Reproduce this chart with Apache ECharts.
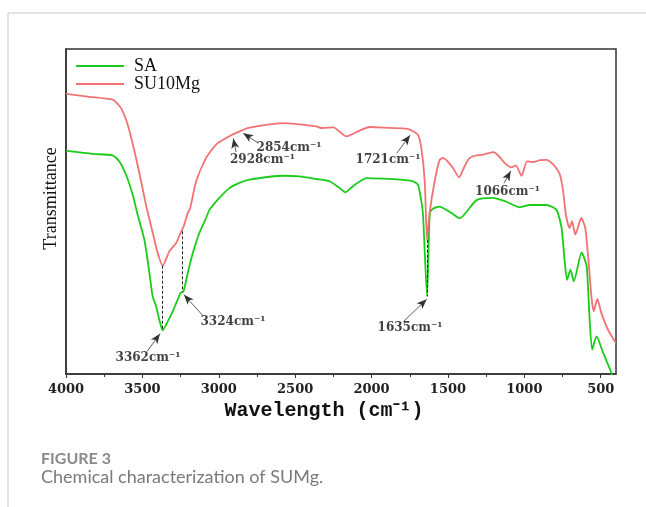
<!DOCTYPE html>
<html>
<head>
<meta charset="utf-8">
<script src="https://cdn.jsdelivr.net/npm/echarts@6/dist/echarts.min.js"></script>
<style>
  * { margin: 0; padding: 0; }
  html, body { background: #fff; }
  #chart { width: 646px; height: 507px; }
</style>
</head>
<body>
<div id="chart"></div>
<script>
  // wavenumbers (cm-1) and transmittance (a.u., 0-100 = plot height)
  var waveSA = [4000,3826,3695,3651,3607,3564,3531,3487,3454,3433,3410,3389,3367,3334,3301,3269,3251,3231,3203,3170,
    3127,3083,3061,2996,2930,2865,2799,2581,2472,2362,2275,2209,2170,2122,2034,1925,1816,1729,1696,1674,
    1663,1637,1619,1600,1554,1510,1467,1423,1313,1204,1117,1030,964,855,790,757,735,720,698,676,
    625,592,575,556,527,484,438,400];
  var valSA = [68.7,67.7,67.3,65.4,61.3,55.2,49.0,41.3,31.1,23.9,20.8,16.7,13.4,16.2,19.3,22.9,24.9,25.4,31.1,37.2,
    43.4,48.0,50.5,54.2,57.2,58.8,59.8,61.0,60.8,60.0,59.3,57.2,55.9,57.8,60.3,60.1,59.8,59.3,58.2,53.1,
    49.0,23.9,49.5,50.8,51.5,50.5,49.2,47.9,53.5,54.2,53.0,51.3,52.0,52.0,50.5,45.2,34.2,29.0,32.1,28.5,
    37.4,33.1,18.8,7.5,11.6,6.5,1.3,-4];

  var waveSU = [4000,3847,3695,3640,3596,3552,3509,3472,3432,3400,3367,3323,3279,3246,3230,3203,3187,3148,3083,3017,
    2952,2886,2799,2581,2362,2330,2250,2165,2078,2012,1881,1772,1729,1696,1674,1652,1637,1622,1587,1554,
    1532,1510,1467,1427,1401,1368,1336,1270,1204,1172,1128,1084,1056,1018,982,942,898,855,833,800,
    767,746,728,704,688,666,627,601,579,561,546,522,496,452,400];
  var valSU = [86.2,85.3,84.4,81.8,76.7,68.6,59.4,51.1,43.4,37.2,33.3,37.8,40.3,43.9,45.4,49.5,51.1,59.3,66.5,70.6,
    72.6,74.2,75.8,77.2,76.2,75.7,75.9,73.1,74.9,76.0,75.7,75.5,74.7,73.6,69.5,59.4,41.3,48.9,59.3,65.9,
    66.5,65.8,63.4,60.5,62.9,65.9,67.0,67.5,68.3,67.3,64.9,63.6,64.2,61.0,65.4,65.2,65.8,65.9,65.4,63.9,
    61.3,56.2,49.0,44.9,47.0,42.9,48.0,44.9,34.2,23.9,19.3,23.1,18.8,13.6,9.5];

  var majorTicks = [4000,3500,3000,2500,2000,1500,1000,500];
  var minorTicks = [3750,3250,2750,2250,1750,1250,750];

  // peak annotations: text, label centre, arrow tail, arrow head
  var annoText = ['3362cm⁻¹','3324cm⁻¹','2928cm⁻¹','2854cm⁻¹','1721cm⁻¹','1635cm⁻¹','1066cm⁻¹'];
  var annoLabelAt = [[3463,4.9],[2907,16.0],[2714,65.8],[2540,69.5],[1892,65.8],[1748,14.2],[1110,56.1]];
  var annoFrom = [[3468,7.0],[3101,17.8],[2887,68.3],[2743,71.1],[1835,67.9],[1792,16.1],[1133,58.7]];
  var annoTo = [[3385,12.4],[3228,24.4],[2905,72.5],[2840,74.1],[1748,73.5],[1639,23.0],[1089,62.5]];
  // dashed guides between the two spectra
  var guideTop = [[3367,33.3],[3238,43.9],[1637,41.3]];
  var guideBottom = [[3367,13.4],[3238,25.2],[1637,23.9]];

  function zip(xs, ys) {
    return xs.map(function (x, i) { return [x, ys[i]]; });
  }

  var chart = echarts.init(document.getElementById('chart'));
  chart.setOption({
    animation: false,
    backgroundColor: '#fff',
    legend: {
      data: ['SA', 'SU10Mg'],
      orient: 'vertical',
      left: 71,
      top: 52,
      icon: 'rect',
      itemWidth: 48,
      itemHeight: 2,
      itemGap: 0,
      textStyle: { fontFamily: 'Liberation Serif', fontSize: 18, color: '#111', lineHeight: 18, padding: [0, 0, 0, 5] }
    },
    grid: { left: 66, right: 30, top: 49, bottom: 133, show: true, borderColor: '#333', borderWidth: 1.5 },
    xAxis: [{
      type: 'value',
      inverse: true,
      min: 400,
      max: 4000,
      name: 'Wavelength (cm⁻¹)',
      nameLocation: 'middle',
      nameGap: 26,
      nameTextStyle: { fontFamily: 'Liberation Mono', fontWeight: 'bold', fontSize: 20, color: '#111', padding: [0, 34, 0, 0] },
      axisLine: { lineStyle: { color: '#333', width: 1.5 } },
      axisTick: { customValues: majorTicks, length: 4, lineStyle: { color: '#333' } },
      axisLabel: {
        customValues: majorTicks,
        margin: 9,
        formatter: function (v) { return String(v); },
        fontFamily: 'DejaVu Serif',
        fontWeight: 'bold',
        fontSize: 13,
        color: '#222'
      },
      splitLine: { show: false }
    }, {
      type: 'value',
      inverse: true,
      min: 400,
      max: 4000,
      position: 'bottom',
      axisLine: { show: false },
      axisTick: { customValues: minorTicks, length: 3, lineStyle: { color: '#333' } },
      axisLabel: { show: false },
      splitLine: { show: false }
    }],
    yAxis: {
      type: 'value',
      min: 0,
      max: 100,
      name: 'Transmittance',
      nameLocation: 'middle',
      nameGap: 6,
      nameTextStyle: { fontFamily: 'Liberation Serif', fontSize: 18, color: '#111', padding: [0, 0, 0, 26] },
      axisLine: { show: true, lineStyle: { color: '#333', width: 1.5 } },
      axisTick: { show: false },
      axisLabel: { show: false },
      splitLine: { show: false }
    },
    series: [{
      name: 'SA',
      type: 'line',
      data: zip(waveSA, valSA),
      symbol: 'none',
      smooth: 0.2,
      clip: true,
      lineStyle: { color: '#19cc19', width: 1.8 },
      itemStyle: { color: '#19cc19' }
    }, {
      name: 'SU10Mg',
      type: 'line',
      data: zip(waveSU, valSU),
      symbol: 'none',
      smooth: 0.2,
      clip: true,
      lineStyle: { color: '#f07272', width: 1.8 },
      itemStyle: { color: '#f07272' },
      markLine: {
        silent: true,
        symbol: ['none', 'none'],
        label: { show: false },
        lineStyle: { color: '#222', type: [3, 2], width: 1 },
        data: guideTop.map(function (p, i) { return [{ coord: p }, { coord: guideBottom[i] }]; })
      }
    }, {
      name: 'notes',
      type: 'scatter',
      silent: true,
      symbolSize: 0,
      itemStyle: { color: 'rgba(0,0,0,0)' },
      data: annoLabelAt.map(function (p, i) { return { value: p, name: annoText[i] }; }),
      label: {
        show: true,
        position: 'inside',
        formatter: '{b}',
        fontFamily: 'DejaVu Serif',
        fontWeight: 'bold',
        fontSize: 12,
        color: '#111'
      },
      markLine: {
        silent: true,
        symbol: ['none', 'arrow'],
        symbolSize: [6, 10],
        label: { show: false },
        lineStyle: { color: '#333', type: 'solid', width: 0.8 },
        data: annoFrom.map(function (p, i) { return [{ coord: p }, { coord: annoTo[i] }]; })
      }
    }],
    graphic: [
      { type: 'line', shape: { x1: 8, y1: 13, x2: 646, y2: 13 }, style: { stroke: '#c8c8c8', lineWidth: 1 } },
      { type: 'line', shape: { x1: 8, y1: 13, x2: 8, y2: 507 }, style: { stroke: '#c8c8c8', lineWidth: 1 } },
      { type: 'text', left: 41, top: 451, style: { text: 'FIGURE 3', font: 'bold 16px Lato', fill: '#8a8a8a' } },
      { type: 'text', left: 41, top: 468, style: { text: 'Chemical characterization of SUMg.', font: '18px Lato', fill: '#7a7a7a' } }
    ]
  });
</script>
</body>
</html>
